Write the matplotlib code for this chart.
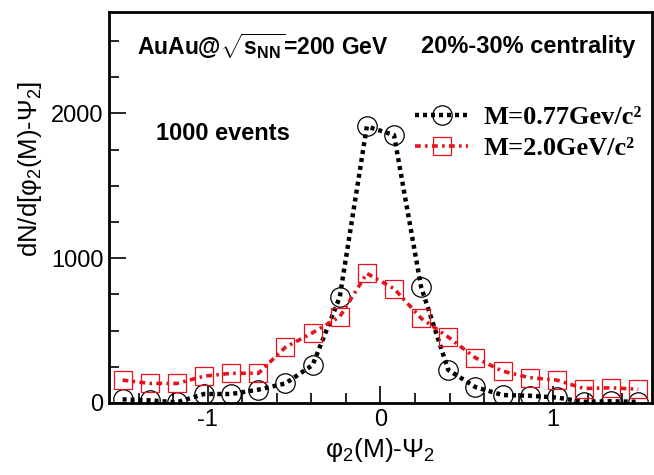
import numpy as np
import matplotlib
matplotlib.use("Agg")
import matplotlib.pyplot as plt
from matplotlib.ticker import MultipleLocator

plt.rcParams['font.family'] = ['Liberation Sans', 'DejaVu Sans']
plt.rcParams['mathtext.fontset'] = 'custom'
plt.rcParams['mathtext.rm'] = 'Liberation Sans'
plt.rcParams['mathtext.it'] = 'Liberation Sans:italic'
plt.rcParams['mathtext.bf'] = 'Liberation Sans:bold'

# 20 bins over [-pi/2, pi/2]
n_bins = 20
edges = np.linspace(-np.pi / 2, np.pi / 2, n_bins + 1)
centers = 0.5 * (edges[:-1] + edges[1:])

counts_077 = [25, 18, 5, 62, 62, 92, 135, 262, 730, 1910,
              1850, 800, 228, 110, 55, 50, 38, 8, 12, 8]
counts_20 = [158, 135, 135, 185, 205, 205, 385, 485, 595, 895,
             790, 585, 455, 312, 220, 175, 158, 100, 105, 95]

label_077 = 'M=0.77Gev/c²'
label_20 = 'M=2.0GeV/c²'

W, H = 654, 475
fig = plt.figure(figsize=(W / 100, H / 100), dpi=100)
ax = fig.add_axes([0.1667, 0.1516, 0.830, 0.8232])


def px(x, y):
    # pixel position from the top-left corner -> figure fraction
    return x / W, 1 - y / H


ax.plot(centers, counts_077, color='black', lw=3.2, linestyle=(0, (0.9, 0.9)),
        marker='o', ms=14, mfc='none', mec='black', mew=0.9, label=label_077)
ax.plot(centers, counts_20, color='#e8101a', lw=2.6, linestyle=(0, (1.6, 1.2, 0.7, 1.2)),
        marker='s', ms=12.5, mfc='none', mec='#e8101a', mew=0.9, label=label_20)

ax.set_xlim(-np.pi / 2, np.pi / 2)
ax.set_ylim(0, 2700)
ax.xaxis.set_major_locator(MultipleLocator(1))
ax.xaxis.set_minor_locator(MultipleLocator(0.2))
ax.yaxis.set_major_locator(MultipleLocator(1000))
ax.yaxis.set_minor_locator(MultipleLocator(250))
ax.tick_params(which='both', direction='in', top=False, right=False,
               labelsize=17, width=1.2, pad=4)
ax.tick_params(which='major', length=12)
ax.tick_params(which='minor', length=7)
ax.set_xticks([-1, 0, 1])
ax.set_xticklabels(['-1', '0', '1'])
for s in ax.spines.values():
    s.set_linewidth(2)

ax.set_xlabel(r'$\mathrm{\varphi_2(M)\text{-}\Psi_2}$', fontsize=19, labelpad=4)
ax.set_ylabel(r'$\mathrm{dN/d[\varphi_2(M)\text{-}\Psi_2]}$', fontsize=18.5, labelpad=6)
ax.yaxis.set_label_coords(-0.12, 0.6)

fig.text(*px(137, 46), r'AuAu@$\sqrt{\mathbf{s_{NN}}}$=200 GeV',
         fontsize=16.5, fontweight='bold', va='center')
fig.text(*px(421, 46), '20%-30% centrality',
         fontsize=17, fontweight='bold', va='center')
fig.text(*px(156, 134), '1000 events',
         fontsize=17, fontweight='bold', va='center')

leg = ax.legend(loc='upper left', bbox_to_anchor=(0.54, 0.795), frameon=False,
                handlelength=2.0, handletextpad=0.6, labelspacing=0.3,
                borderpad=0, prop={'family': 'Liberation Serif', 'weight': 'bold', 'size': 19})

fig.savefig('out.png', dpi=100)
